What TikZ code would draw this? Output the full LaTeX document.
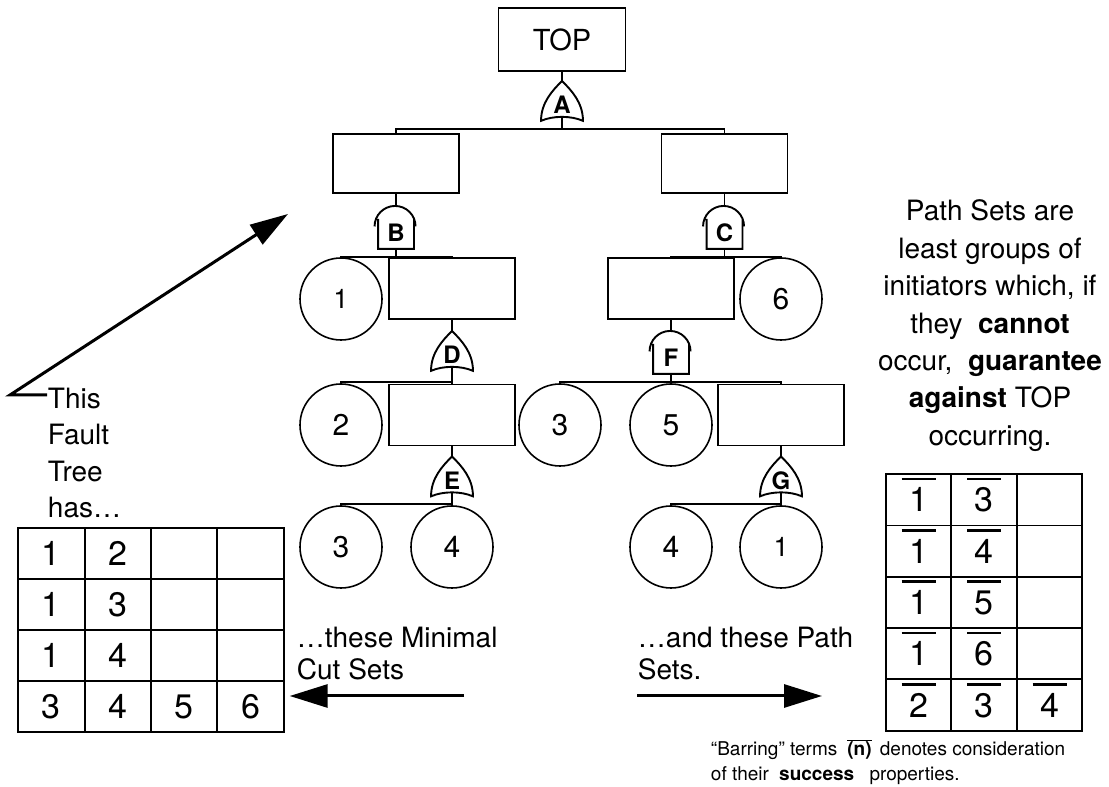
\documentclass[tikz,border=0pt]{standalone}
\usepackage{fontspec}
\setmainfont{TeX Gyre Heros}
\usetikzlibrary{arrows.meta, positioning, matrix, calc}
\newcommand{\barred}[1]{\ooalign{\hfil#1\hfil\cr\hidewidth\raisebox{0.93em}{\rule{1em}{0.08em}}\hidewidth\cr}}

\begin{document}
\begin{tikzpicture}[x=1pt, y=1pt, line width=1.9pt,
    txt/.style={inner sep=0, font=\fontsize{28}{36.5}\selectfont},
    evbox/.style={draw, inner sep=0, minimum width=126pt, minimum height=61pt},
    initiator/.style={draw, circle, line width=1.6pt, inner sep=0, minimum size=82pt, font=\fontsize{30}{30}\selectfont},
    orgate/.style={inner sep=0, minimum width=40pt, text height=32pt, text depth=2pt,
                   font=\fontsize{24}{24}\selectfont\bfseries},
    andgate/.style={inner sep=0, minimum width=41pt, text height=35pt, text depth=6pt,
                    font=\fontsize{24}{24}\selectfont\bfseries},
    bigarrow/.style={line width=3pt, -{Triangle[length=38pt, width=23pt]}},
    cell/.style={draw, anchor=center, inner sep=0, font=\fontsize{34}{34}\selectfont},
  ]
  \useasboundingbox (0,0) rectangle (1109,787);

  % Fault tree: events and gates
  \node[evbox, minimum width=127pt, minimum height=63pt, font=\fontsize{29}{29}\selectfont] (topev) at (562,747.5) {TOP};
  \node[orgate, below=9pt of topev] (gA) {A};
  \node[evbox, minimum height=59pt] (boxB) at (396,623.5) {};
  \node[evbox, minimum height=59pt] (boxC) at (724.5,623.5) {};
  \node[andgate, below=12pt of boxB] (gB) {B};
  \node[andgate, below=12pt of boxC] (gC) {C};

  % left branch
  \node[initiator, font=\fontsize{27}{27}\selectfont] (e1) at (341,488) {1};
  \node[evbox] (boxD) at (452,498.5) {};
  \node[orgate, below=11pt of boxD] (gD) {D};
  \node[initiator] (e2) at (341,362) {2};
  \node[evbox] (boxE) at (452,372) {};
  \node[orgate, below=10pt of boxE] (gE) {E};
  \node[initiator] (e3) at (341,240) {3};
  \node[initiator] (e4) at (452,240) {4};

  % right branch
  \node[evbox] (boxF) at (671,498.5) {};
  \node[initiator] (e6) at (781,488) {6};
  \node[andgate, below=11pt of boxF] (gF) {F};
  \node[initiator] (e3b) at (560,362) {3};
  \node[initiator] (e5) at (671,362) {5};
  \node[evbox] (boxG) at (781,372) {};
  \node[orgate, below=10pt of boxG] (gG) {G};
  \node[initiator] (e4b) at (671,240) {4};
  \node[initiator, font=\fontsize{27}{27}\selectfont] (e1b) at (781,240) {1};

  % gate outlines
  \foreach \g in {gA,gD,gE,gG}
    \draw (\g.north) .. controls +(-10,-10) and +(0,18) .. ([yshift=-4pt]\g.south west)
          .. controls +(12,5.3) and +(-12,5.3) .. ([yshift=-4pt]\g.south east)
          .. controls +(0,18) and +(10,-10) .. (\g.north) -- cycle;
  \foreach \g in {gB,gC,gF}
    \draw ([yshift=-20.5pt]\g.north west) arc[start angle=180, end angle=0, radius=20.5pt]
          ([shift={(3.5pt,30pt)}]\g.south west) -- ([xshift=3.5pt]\g.south west)
          -- ([xshift=-3.5pt]\g.south east) -- ([shift={(-3.5pt,30pt)}]\g.south east);

  % connectors
  \draw (topev) -- (gA);
  \draw (boxB) -- (gB);
  \draw (boxC) -- (gC);
  \draw (boxD) -- (gD);
  \draw (boxE) -- (gE);
  \draw (boxF) -- (gF);
  \draw (boxG) -- (gG);
  \foreach \g/\h/\l/\r in {gA/12/boxB/boxC, gB/8/e1/boxD, gC/8/boxF/e6, gD/15/e2/boxE,
                           gE/12/e3/e4, gF/8/e3b/boxG, gG/12/e4b/e1b} {
    \draw (\g.south) -- ++(0,-\h) coordinate (j\g);
    \draw (\l.north) |- (j\g) -| (\r.north);
  }
  \draw (jgF) -- (e5.north);

  % left side: note and cut sets
  \node[txt, anchor=north west, align=left] (has) at (47,400) {This\\Fault\\Tree\\has…};
  \coordinate (kink) at (10,392);
  \coordinate (aim) at (288,573);
  \draw[bigarrow] (kink -| has.west) -- (kink) -- (aim);

  \matrix (mcs) [matrix of nodes, nodes in empty cells, inner sep=0,
                 column sep=-1.9pt, row sep=-1.9pt,
                 nodes={cell, minimum width=66.4pt, minimum height=51pt}] at (151,157) {
    1 & 2 &   &   \\
    1 & 3 &   &   \\
    1 & 4 &   &   \\
    3 & 4 & 5 & 6 \\
  };

  \node[txt, anchor=north west, align=left, font=\fontsize{28}{32}\selectfont] (mcstxt) at (296,161)
    {…these Minimal\\Cut Sets};
  \coordinate (tailL) at (464,91);
  \draw[bigarrow] (tailL) -- ($(tailL -| mcs.east)+(4,0)$);

  % right side: path sets
  \node[txt, anchor=north, align=center, font=\fontsize{28}{37.4}\selectfont] (pathdef) at (990,588)
    {Path Sets are\\least groups of\\initiators which, if\\they \ \textbf{cannot}\\
     occur, \ \textbf{guarantee}\\\textbf{against} TOP\\occurring.};

  \matrix (paths) [matrix of nodes, nodes in empty cells, inner sep=0,
                   column sep=-1.9pt, row sep=-1.9pt,
                   nodes={cell, minimum width=65.5pt, minimum height=51.3pt}] at (984,184.5) {
    \barred{1} & \barred{3} & \\
    \barred{1} & \barred{4} & \\
    \barred{1} & \barred{5} & \\
    \barred{1} & \barred{6} & \\
    \barred{2} & \barred{3} & \barred{4} \\
  };

  \node[txt, anchor=north west, align=left, font=\fontsize{28}{32}\selectfont] (pstxt) at (637,161)
    {…and these Path\\Sets.};
  \coordinate (tailR) at (637,91);
  \coordinate (tipR) at (822,91);
  \draw[bigarrow] (tailR) -- (tipR);

  \node[inner sep=0, anchor=north west, align=left, font=\fontsize{19}{25}\selectfont] (barnote) at (710,48)
    {“Barring” terms\hspace{10pt}$\overline{\mbox{\bfseries(n)}}$\hspace{3pt} denotes consideration\\
     of their\hspace{5pt} \textbf{success}\hspace{10pt} properties.};
\end{tikzpicture}
\end{document}
